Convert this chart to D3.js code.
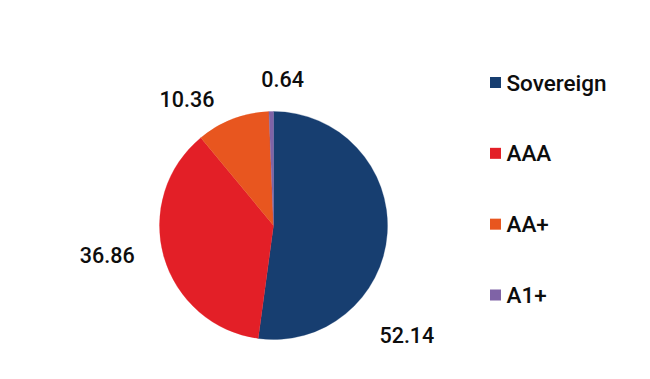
<!DOCTYPE html>
<html>
<head>
<meta charset="utf-8">
<script src="https://cdn.jsdelivr.net/npm/d3@7"></script>
<style>
  html, body { margin: 0; padding: 0; background: #fff; }
  svg { display: block; }
  text { font-family: Roboto, "Open Sans", sans-serif; fill: #0d0d0d; font-weight: 500; }
</style>
</head>
<body>
<svg id="chart" width="650" height="379"></svg>
<script>
// ---- data ----
const categories = ["Sovereign", "AAA", "AA+", "A1+"];
const values = [52.14, 36.86, 10.36, 0.64];
const labels = ["52.14", "36.86", "10.36", "0.64"];
const colors = ["#173e70", "#e31f27", "#e8561f", "#7f63a6"];

// ---- layout (label placement tweaks, not data) ----
const labelAngleShift = [35.7, 5.6, -13.5, 4.7];   // degrees relative to slice mid-angle
const labelRadius = [173, 169, 153, 146];

const W = 650, H = 379;
const cx = 273.5, cy = 225.5, R = 114;

const svg = d3.select("#chart");
const g = svg.append("g").attr("transform", `translate(${cx},${cy})`);

const pie = d3.pie().sort(null).value(d => d)(values);
const arc = d3.arc().innerRadius(0).outerRadius(R);

g.selectAll("path.slice")
  .data(pie)
  .join("path")
  .attr("class", "slice")
  .attr("d", arc)
  .attr("fill", (d, i) => colors[i])
  .attr("stroke", (d, i) => colors[i])
  .attr("stroke-width", 0.3);

g.selectAll("text.lbl")
  .data(pie)
  .join("text")
  .attr("class", "lbl")
  .attr("text-anchor", "middle")
  .attr("dominant-baseline", "central")
  .style("font-size", "21.5px")
  .attr("x", (d, i) => {
    const a = (d.startAngle + d.endAngle) / 2 + labelAngleShift[i] * Math.PI / 180;
    return Math.sin(a) * labelRadius[i];
  })
  .attr("y", (d, i) => {
    const a = (d.startAngle + d.endAngle) / 2 + labelAngleShift[i] * Math.PI / 180;
    return -Math.cos(a) * labelRadius[i];
  })
  .text((d, i) => labels[i]);

// ---- legend ----
const legendY = d3.scalePoint().domain(categories).range([82.5, 295]);
const lg = svg.append("g");
const items = lg.selectAll("g.item")
  .data(categories)
  .join("g")
  .attr("class", "item")
  .attr("transform", d => `translate(490,${legendY(d)})`);
items.append("rect")
  .attr("x", 0).attr("y", -5.5)
  .attr("width", 11).attr("height", 11)
  .attr("fill", (d, i) => colors[i]);
items.append("text")
  .attr("x", 16.5)
  .attr("y", 0)
  .attr("dominant-baseline", "central")
  .style("font-size", "22.5px")
  .text(d => d);
</script>
</body>
</html>
